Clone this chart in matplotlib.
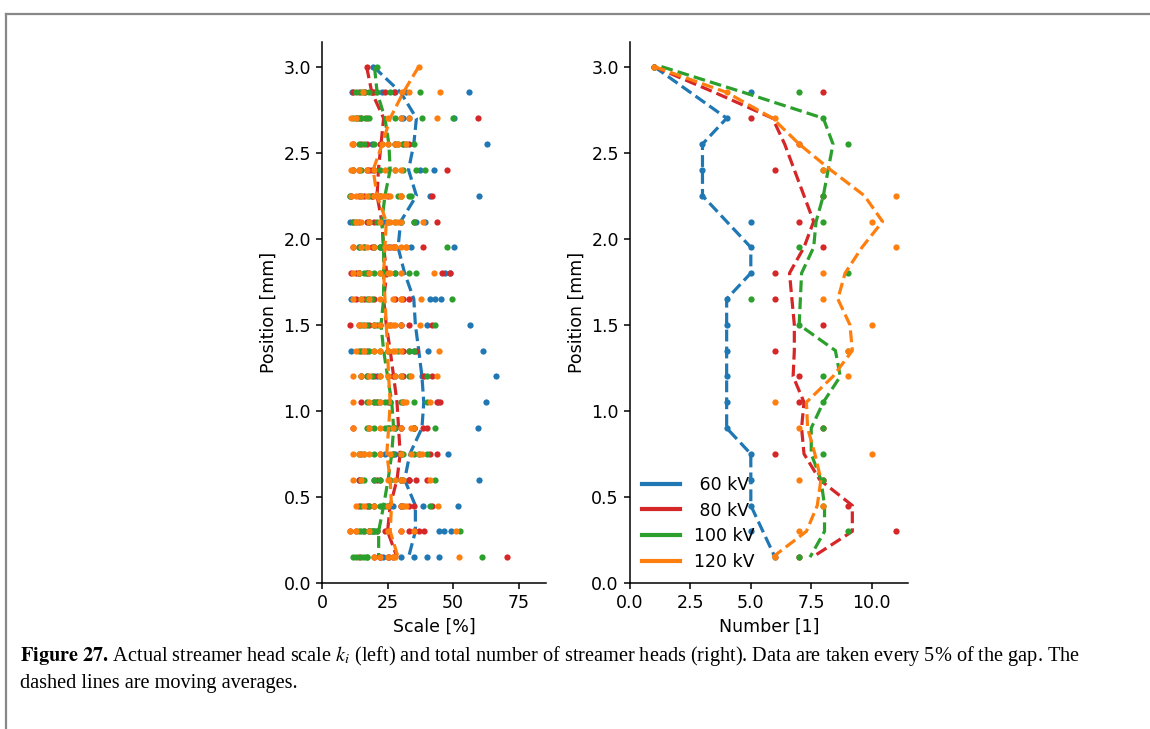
import matplotlib
matplotlib.use('Agg')
import matplotlib.pyplot as plt
from matplotlib.lines import Line2D

# positions in the gap (every 5% of 3 mm), top to bottom
positions = [3.0, 2.85, 2.7, 2.55, 2.4, 2.25, 2.1, 1.95, 1.8, 1.65,
             1.5, 1.35, 1.2, 1.05, 0.9, 0.75, 0.6, 0.45, 0.3, 0.15]

voltages = [' 60 kV', ' 80 kV', '100 kV', '120 kV']
colors = ['#1f77b4', '#d62728', '#2ca02c', '#ff7f0e']

# --- left: streamer head scale [%], one list per position ---
scale_60 = [
    [19.6], [11.4, 22.8, 28, 32, 56], [50.3, 33, 30, 31], [63, 23, 19],
    [42.6, 37.2, 19], [59.8, 41.3, 10.5], [10.7, 39.4, 24, 30, 36],
    [50.3, 20, 26, 14, 34], [48.7, 14, 18, 28, 47], [41.3, 43, 45.2, 11],
    [56.6, 30.2, 16, 40], [61.4, 40.4, 11.1, 35], [66.2, 38.1, 21, 28],
    [62.4, 44.3, 26, 22], [59.5, 30, 35, 28], [37, 24, 30, 28, 48],
    [59.9, 14, 20, 33, 31], [51.9, 38.5, 27, 30, 31], [44.5, 46.7, 49, 18, 20],
    [44.5, 23.2, 25.4, 30, 40, 35],
]
scale_80 = [
    [17], [16.5, 19, 24, 27.3, 14, 20, 12, 19], [59.4, 15, 17, 13, 14],
    [12, 15, 17, 28, 31, 22, 33], [47.7, 12, 14, 18, 20, 17],
    [42, 11, 14, 16, 19, 22, 25, 19], [43.9, 35, 12, 14, 17, 20, 18],
    [38.5, 12, 16, 19, 22, 25, 28, 27], [45.8, 48.7, 14, 17, 11, 13],
    [13, 16, 20, 28, 31, 33], [10.5, 14, 18, 22, 26, 30, 33, 42],
    [35.8, 15, 17, 25, 33, 31], [15, 17, 20, 27, 31, 39, 42],
    [43.9, 45, 15, 21, 25, 31, 20], [35, 12, 18, 25, 30, 35, 40, 38.6],
    [43.9, 41.3, 15, 22, 27, 30], [21, 22, 14, 30, 33, 36, 40, 33],
    [14, 17, 20, 25, 30, 33, 35, 42, 18],
    [10.5, 13, 16, 18, 21, 24, 30, 33, 35, 37, 39],
    [70.4, 22, 25, 27, 14, 20, 22],
]
scale_100 = [
    [21], [13, 14.8, 16, 18, 21, 26, 37.5], [12, 13.5, 15, 16.5, 18, 28, 38, 50],
    [14, 16, 20, 25, 29, 32, 35, 28, 31], [39.4, 36, 12, 15, 22, 28, 31, 25],
    [10.5, 15, 18, 22, 30, 33, 34, 29], [12, 13, 18, 21, 25, 28, 30, 35],
    [47.7, 14, 16, 20, 22, 23, 22], [14, 16, 17, 20, 22, 25, 28, 33, 36],
    [49.4, 15, 18, 17, 19], [43, 15, 17, 20, 21, 22, 20],
    [14, 16, 18, 20, 22, 25, 29, 33, 35], [19, 22, 30, 15, 17, 25, 33, 40],
    [20, 24, 30, 35, 17, 21, 26, 40], [43.2, 35, 17, 20, 25, 28, 26, 24],
    [14, 16, 20, 35, 30, 27, 31, 40], [43.2, 15, 16, 20, 26, 22, 30, 30],
    [41.3, 15, 18, 20, 22, 25, 24, 23], [52.6, 14, 16, 15, 21, 18, 20, 19, 19],
    [61, 15, 16, 12, 17, 13, 17],
]
scale_120 = [
    [36.9], [15.8, 30.5, 33, 44.8], [11, 13, 25, 30, 33, 44],
    [11.4, 12, 23, 25, 28, 32, 29], [11, 12, 14, 17, 20, 24, 28, 30],
    [11, 13, 15, 17, 20, 22, 24, 26, 30, 23, 30],
    [38.4, 13, 15, 18, 22, 25, 28, 30, 26, 29],
    [12, 15, 17, 20, 24, 26, 28, 30, 32, 28, 32],
    [42.6, 12, 14, 18, 22, 25, 30, 26], [37.9, 12, 15, 18, 22, 27, 30, 30],
    [37.2, 14, 16, 20, 22, 25, 28, 30, 26, 27],
    [44.5, 13, 16, 20, 22, 25, 27, 30, 28], [12, 15, 18, 22, 25, 28, 30, 34, 44],
    [41.3, 12, 18, 22, 32, 31], [12, 18, 22, 27, 30, 34, 35],
    [12, 14, 16, 18, 22, 26, 30, 34, 38, 37], [41.3, 12, 15, 25, 28, 30, 31],
    [44.3, 13, 16, 20, 25, 30, 32, 31], [10.5, 13, 18, 25, 30, 35, 50.9],
    [52.2, 20, 22, 25, 28, 27],
]

# moving averages of the scale
scale_avg_60 = [19.6, 30, 36, 35, 33, 36, 30, 29, 31.5, 35,
                35.6, 36.9, 38.1, 38.8, 38.1, 33.5, 31.5, 35.6, 35.6, 33]
scale_avg_80 = [17, 19, 23.5, 22.5, 21.5, 21, 22.8, 23.5, 24.7, 23.5,
                24.5, 26, 27.3, 28.6, 29.2, 29.8, 28.6, 26, 25, 28.6]
scale_avg_100 = [20, 21, 24, 25.5, 26, 24, 22.8, 23.5, 23.5, 23.5,
                 22.5, 23.5, 25, 26.6, 27.3, 26.6, 25.2, 23.5, 21.6, 21.6]
scale_avg_120 = [36.9, 31, 26, 23, 19.5, 21, 24.5, 24, 23.5, 24,
                 24.5, 25, 25.4, 26, 25.4, 24.7, 26, 26.5, 26, 29]

# --- right: number of streamer heads ---
count_60 = [1, 5, 4, 3, 3, 3, 5, 5, 5, 4, 4, 4, 4, 4, 4, 5, 5, 5, 5, 6]
count_80 = [1, 8, 5, 7, 6, 8, 7, 8, 6, 6, 8, 6, 7, 7, 8, 6, 8, 9, 11, 7]
count_100 = [1, 7, 8, 9, 8, 8, 8, 7, 9, 5, 7, 9, 8, 8, 8, 8, 8, 8, 9, 7]
count_120 = [1, 4, 6, 7, 8, 11, 10, 11, 8, 8, 10, 9, 9, 6, 7, 10, 7, 8, 7, 6]

count_avg_60 = [1, 2.5, 4, 3, 3, 3, 4, 5, 5, 4, 4, 4, 4, 4, 4, 5, 5, 5, 5.5, 6]
count_avg_80 = [1, 3.5, 5.9, 6.4, 6.8, 7.2, 7.6, 7.2, 6.6, 6.7,
                6.8, 6.8, 6.75, 7.2, 7.1, 7.2, 7.85, 9.2, 9.2, 7.55]
count_avg_100 = [1.3, 4.7, 8.0, 8.4, 8.2, 8.0, 7.7, 7.6, 7.1, 7.05,
                 7.0, 8.5, 8.7, 8.0, 7.5, 7.5, 7.9, 8.05, 8.05, 7.45]
count_avg_120 = [1, 4.0, 5.9, 7.0, 8.3, 9.7, 10.45, 9.6, 8.9, 8.6,
                 9.1, 9.2, 8.4, 7.3, 7.35, 7.65, 7.9, 7.75, 7.3, 5.9]

scales = [scale_60, scale_80, scale_100, scale_120]
scale_avgs = [scale_avg_60, scale_avg_80, scale_avg_100, scale_avg_120]
counts = [count_60, count_80, count_100, count_120]
count_avgs = [count_avg_60, count_avg_80, count_avg_100, count_avg_120]

plt.rcParams['mathtext.fontset'] = 'stix'
plt.rcParams['font.size'] = 12.5
plt.rcParams['axes.linewidth'] = 1.1
for a in ('xtick', 'ytick'):
    plt.rcParams[a + '.major.size'] = 4.5
    plt.rcParams[a + '.major.width'] = 1.1

fig = plt.figure(figsize=(11.5, 7.29), dpi=100)
ax1 = fig.add_axes([0.280, 0.2003, 0.195, 0.742])
ax2 = fig.add_axes([0.5478, 0.2003, 0.2417, 0.742])

# left panel: scale
for sc, avg, c in zip(scales, scale_avgs, colors):
    xs, ys = [], []
    for pos, vals in zip(positions, sc):
        xs += vals
        ys += [pos] * len(vals)
    ax1.plot(xs, ys, 'o', color=c, ms=4.5, mew=0)
    ax1.plot(avg, positions, '--', color=c, lw=2.3)
ax1.set_xlim(0, 85.5)
ax1.set_xticks([0, 25, 50, 75])
ax1.set_xlabel('Scale [%]')

# right panel: number of heads
for cnt, avg, c in zip(counts, count_avgs, colors):
    ax2.plot(cnt, positions, 'o', color=c, ms=4.5, mew=0)
    ax2.plot(avg, positions, '--', color=c, lw=2.3)
ax2.set_xlim(0, 11.5)
ax2.set_xticks([0, 2.5, 5, 7.5, 10])
ax2.set_xlabel('Number [1]')

handles = [Line2D([], [], color=c, lw=3) for c in colors]
ax2.legend(handles, voltages, loc='lower left', frameon=False, fontsize=12.5,
           handlelength=2.2, labelspacing=0.44, borderaxespad=0.3)

for ax in (ax1, ax2):
    ax.set_ylim(0, 3.1425)
    ax.set_yticks([0, 0.5, 1.0, 1.5, 2.0, 2.5, 3.0])
    ax.set_ylabel('Position [mm]')
    ax.spines['top'].set_visible(False)
    ax.spines['right'].set_visible(False)

# page frame and caption
fig.add_artist(Line2D([0.005, 1.0], [0.981, 0.981], color='#888888', lw=1.6))
fig.add_artist(Line2D([0.005, 0.005], [0.0, 0.981], color='#888888', lw=1.6))
fig.text(0.017, 0.0933, r'$\mathbf{Figure\ 27.}\,$Actual streamer head scale $k_i$ (left) and total number '
         'of streamer heads (right). Data are taken every 5% of the gap. The',
         family='Liberation Serif', fontsize=14.6, va='baseline')
fig.text(0.017, 0.0562, 'dashed lines are moving averages.',
         family='Liberation Serif', fontsize=14.6, va='baseline')

fig.savefig('out.png', dpi=100)
